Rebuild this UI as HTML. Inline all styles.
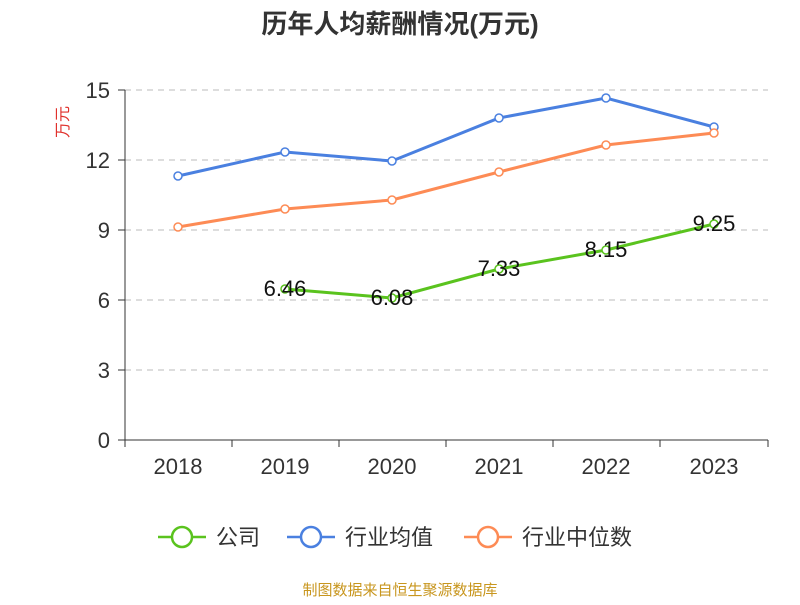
<!DOCTYPE html>
<html><head><meta charset="utf-8"><style>
body{margin:0;background:#fff;}
svg text{font-family:"Liberation Sans","Noto Sans CJK SC",sans-serif;}
</style></head><body>
<svg width="800" height="600" viewBox="0 0 800 600" xmlns="http://www.w3.org/2000/svg">
<text x="400" y="33" text-anchor="middle" font-size="26" font-weight="bold" fill="#333">历年人均薪酬情况(万元)</text>
<text x="68" y="122" text-anchor="middle" font-size="16" fill="#e0312c" transform="rotate(-90 68 122)">万元</text>
<g stroke="#bbb" stroke-dasharray="6,5" stroke-width="1">
<line x1="125" x2="768" y1="90" y2="90"/><line x1="125" x2="768" y1="160" y2="160"/>
<line x1="125" x2="768" y1="230" y2="230"/><line x1="125" x2="768" y1="300" y2="300"/>
<line x1="125" x2="768" y1="370" y2="370"/>
</g>
<g stroke="#333" stroke-width="1">
<line x1="125" x2="125" y1="90" y2="440"/><line x1="125" x2="768" y1="440" y2="440"/>
<line x1="118" x2="125" y1="90" y2="90"/><line x1="118" x2="125" y1="160" y2="160"/>
<line x1="118" x2="125" y1="230" y2="230"/><line x1="118" x2="125" y1="300" y2="300"/>
<line x1="118" x2="125" y1="370" y2="370"/><line x1="118" x2="125" y1="440" y2="440"/>
<line x1="125" x2="125" y1="440" y2="447"/><line x1="232" x2="232" y1="440" y2="447"/>
<line x1="339" x2="339" y1="440" y2="447"/><line x1="446" x2="446" y1="440" y2="447"/>
<line x1="553" x2="553" y1="440" y2="447"/><line x1="660" x2="660" y1="440" y2="447"/>
<line x1="768" x2="768" y1="440" y2="447"/>
</g>
<g font-size="22" fill="#333" text-anchor="end">
<text x="110" y="98">15</text><text x="110" y="168">12</text><text x="110" y="238">9</text>
<text x="110" y="308">6</text><text x="110" y="378">3</text><text x="110" y="448">0</text>
</g>
<g font-size="22" fill="#333" text-anchor="middle">
<text x="178" y="474">2018</text><text x="285" y="474">2019</text><text x="392" y="474">2020</text>
<text x="499" y="474">2021</text><text x="606" y="474">2022</text><text x="714" y="474">2023</text>
</g>
<g fill="none" stroke-width="3">
<polyline stroke="#4a80e0" points="178,176 285,152 392,161 499,118 606,98 714,127"/>
<polyline stroke="#fd8b55" points="178,227 285,209 392,200 499,172 606,145 714,133"/>
<polyline stroke="#5ac31e" points="285,289 392,298 499,269 606,250 714,224"/>
</g>
<g fill="#fff" stroke-width="1.5">
<g stroke="#4a80e0"><circle cx="178" cy="176" r="4"/><circle cx="285" cy="152" r="4"/><circle cx="392" cy="161" r="4"/><circle cx="499" cy="118" r="4"/><circle cx="606" cy="98" r="4"/><circle cx="714" cy="127" r="4"/></g>
<g stroke="#fd8b55"><circle cx="178" cy="227" r="4"/><circle cx="285" cy="209" r="4"/><circle cx="392" cy="200" r="4"/><circle cx="499" cy="172" r="4"/><circle cx="606" cy="145" r="4"/><circle cx="714" cy="133" r="4"/></g>
<g stroke="#5ac31e"><circle cx="285" cy="289" r="4"/><circle cx="392" cy="298" r="4"/><circle cx="499" cy="269" r="4"/><circle cx="606" cy="250" r="4"/><circle cx="714" cy="224" r="4"/></g>
</g>
<g font-size="22" fill="#111" text-anchor="middle">
<text x="285" y="296">6.46</text><text x="392" y="305">6.08</text><text x="499" y="276">7.33</text>
<text x="606" y="257">8.15</text><text x="714" y="231">9.25</text>
</g>
<g stroke-width="2.5" fill="#fff">
<line x1="158" x2="206" y1="537" y2="537" stroke="#5ac31e"/><circle cx="182" cy="537" r="10" stroke="#5ac31e"/>
<line x1="287" x2="335" y1="537" y2="537" stroke="#4a80e0"/><circle cx="311" cy="537" r="10" stroke="#4a80e0"/>
<line x1="464" x2="512" y1="537" y2="537" stroke="#fd8b55"/><circle cx="488" cy="537" r="10" stroke="#fd8b55"/>
</g>
<g font-size="22" fill="#333">
<text x="216" y="545">公司</text><text x="345" y="545">行业均值</text><text x="522" y="545">行业中位数</text>
</g>
<text x="400" y="595" text-anchor="middle" font-size="15" fill="#c8961e">制图数据来自恒生聚源数据库</text>
</svg>
</body></html>
